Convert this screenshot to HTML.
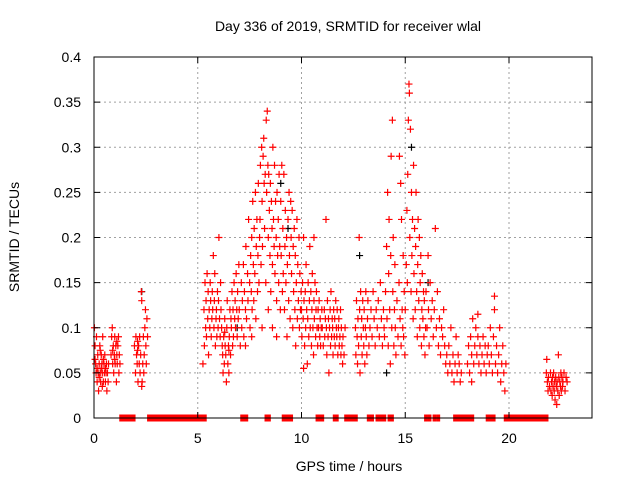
<!DOCTYPE html>
<html><head><meta charset="utf-8"><style>
body{margin:0;background:#fff}
svg{display:block;font-family:"Liberation Sans",sans-serif}
</style></head><body>
<svg id="chart" width="640" height="480" viewBox="0 0 640 480">
<rect width="640" height="480" fill="#fff"/>
<g id="grid"></g>
<g id="bars"></g>
<g id="pts"></g>
<rect x="94" y="57" width="498" height="361" fill="none" stroke="#000"/>
<g id="ticks"></g>
<text x="348" y="31" text-anchor="middle" font-size="14">Day 336 of 2019, SRMTID for receiver wlal</text>
<text x="349" y="471" text-anchor="middle" font-size="14">GPS time / hours</text>
<text transform="translate(19,237) rotate(-90)" text-anchor="middle" font-size="14">SRMTID / TECUs</text>
</svg>
<script>
const xTicks=[0,5,10,15,20];
const yTicks=[0,0.05,0.1,0.15,0.2,0.25,0.3,0.35,0.4];
const yTickLabels=["0","0.05","0.1","0.15","0.2","0.25","0.3","0.35","0.4"];
const zeroIntervals=[[1.29,1.93],[2.63,5.36],[7.12,7.36],[8.29,8.45],[9.12,9.35],[9.48,9.52],[10.75,11.02],[11.58,11.62],[11.68,11.72],[12.13,12.64],[13.22,13.42],[13.64,14.01],[14.22,14.38],[15.98,16.02],[16.15,16.19],[16.39,16.43],[16.57,16.61],[17.38,17.57],[17.65,18.25],[18.95,19.28],[19.82,21.83]];
const redObs=[
[0.02,.1],[0.05,.08],[0.08,.06],[0.1,.05],[0.12,.09],[0.15,.04],[0.18,.07],[0.2,.05],[0.22,.03],[0.25,.06],[0.28,.08],[0.3,.05],[0.32,.04],[0.35,.07],[0.38,.06],[0.4,.05],[0.42,.09],[0.45,.04],[0.48,.06],[0.5,.05],[0.52,.07],[0.55,.04],[0.58,.05],[0.6,.06],[0.62,.03],[0.65,.05],[0.68,.04],[0.7,.06],[0.05,.065],[0.15,.055],[0.25,.045],[0.35,.055],[0.45,.065],[0.55,.055],[0.3,.075],[0.4,.035],
[0.82,.07],[0.85,.09],[0.88,.1],[0.9,.06],[0.93,.08],[0.95,.05],[0.98,.07],[1.0,.09],[1.02,.06],[1.05,.08],[1.08,.04],[1.1,.07],[1.12,.06],[1.15,.08],[1.18,.09],[1.2,.05],[1.22,.07],[1.25,.06],[0.9,.075],[1.0,.065],[1.1,.085],
[1.95,.08],[2.0,.05],[2.02,.09],[2.05,.07],[2.08,.06],[2.1,.085],[2.12,.04],[2.15,.08],[2.18,.06],[2.2,.09],[2.22,.05],[2.25,.07],[2.28,.14],[2.3,.13],[2.32,.04],[2.35,.06],[2.38,.09],[2.4,.05],[2.42,.07],[2.45,.1],[2.48,.12],[2.5,.08],[2.52,.06],[2.55,.11],[2.58,.09],[2.3,.035],[2.1,.075],
[5.25,.06],[5.3,.12],[5.32,.08],[5.35,.15],[5.38,.1],[5.4,.13],[5.42,.09],[5.45,.16],[5.48,.11],[5.5,.14],[5.52,.07],[5.55,.12],[5.58,.1],[5.6,.15],[5.62,.13],[5.65,.09],[5.68,.11],[5.7,.14],[5.72,.12],[5.75,.18],[5.78,.1],[5.8,.13],[5.82,.16],[5.85,.08],[5.88,.11],[5.9,.12],[5.92,.09],[5.95,.14],[5.98,.1],[6.0,.13],[6.02,.2],[6.05,.11],[6.08,.09],[6.1,.15],[6.12,.12],[6.15,.1],[6.18,.08],
[6.2,.07],[6.22,.05],[6.25,.09],[6.28,.06],[6.3,.11],[6.32,.08],[6.35,.07],[6.38,.04],[6.4,.1],[6.42,.13],[6.45,.06],[6.48,.08],[6.5,.05],[6.52,.09],[6.55,.12],[6.58,.07],[6.6,.11],[6.62,.1],[6.65,.14],[6.68,.08],[6.7,.12],[6.72,.09],[6.75,.15],[6.78,.11],[6.8,.13],[6.82,.1],[6.85,.16],[6.88,.12],[6.9,.09],[6.92,.14],[6.95,.11],[6.98,.17],[6.3,.095],[6.5,.075],
[7.0,.12],[7.05,.08],[7.1,.15],[7.12,.1],[7.15,.13],[7.2,.17],[7.22,.09],[7.25,.14],[7.3,.12],[7.32,.19],[7.35,.11],[7.4,.16],[7.42,.13],[7.45,.22],[7.5,.15],[7.52,.1],[7.55,.18],[7.58,.14],[7.6,.2],[7.62,.12],[7.65,.24],[7.68,.17],[7.7,.13],[7.72,.21],[7.75,.16],[7.78,.25],[7.8,.11],[7.82,.19],[7.85,.22],[7.88,.14],[7.9,.18],[7.92,.26],[7.95,.15],[7.98,.2],[7.3,.08],[7.6,.09],
[8.0,.22],[8.02,.28],[8.05,.17],[8.08,.3],[8.1,.24],[8.12,.19],[8.15,.29],[8.18,.31],[8.2,.26],[8.22,.21],[8.25,.27],[8.28,.15],[8.3,.33],[8.32,.25],[8.35,.34],[8.38,.28],[8.4,.2],[8.42,.27],[8.45,.23],[8.48,.18],[8.5,.26],[8.52,.14],[8.55,.24],[8.58,.21],[8.6,.17],[8.62,.3],[8.65,.22],[8.68,.19],[8.7,.28],[8.72,.16],[8.75,.24],[8.78,.2],[8.8,.13],[8.82,.25],[8.85,.18],[8.88,.22],[8.9,.15],[8.92,.27],[8.95,.19],[8.98,.12],[8.1,.1],[8.4,.12],[8.6,.1],[8.8,.09],
[9.0,.24],[9.02,.18],[9.05,.28],[9.08,.14],[9.1,.21],[9.12,.16],[9.15,.27],[9.18,.12],[9.2,.19],[9.22,.23],[9.25,.15],[9.28,.2],[9.3,.09],[9.32,.17],[9.35,.22],[9.38,.13],[9.4,.25],[9.42,.18],[9.45,.11],[9.48,.24],[9.5,.2],[9.52,.16],[9.55,.23],[9.58,.1],[9.6,.19],[9.62,.14],[9.65,.21],[9.68,.12],[9.7,.18],[9.72,.08],[9.75,.15],[9.78,.22],[9.8,.11],[9.82,.17],[9.85,.13],[9.88,.2],[9.9,.1],[9.92,.16],[9.95,.12],[9.98,.14],
[10.0,.12],[10.02,.09],[10.05,.15],[10.08,.11],[10.1,.2],[10.12,.13],[10.15,.08],[10.18,.14],[10.2,.1],[10.22,.17],[10.25,.12],[10.28,.06],[10.3,.11],[10.32,.15],[10.35,.09],[10.38,.13],[10.4,.19],[10.42,.1],[10.45,.14],[10.48,.08],[10.5,.12],[10.52,.16],[10.55,.1],[10.58,.07],[10.6,.13],[10.62,.11],[10.65,.15],[10.68,.09],[10.7,.12],[10.72,.14],[10.75,.1],[10.78,.08],[10.8,.12],[10.82,.1],[10.85,.13],[10.88,.09],[10.9,.11],[10.92,.08],[10.95,.1],[10.98,.12],[10.1,.055],[10.6,.2],
[11.0,.1],[11.05,.08],[11.1,.12],[11.12,.09],[11.15,.11],[11.18,.22],[11.2,.1],[11.22,.07],[11.25,.13],[11.28,.09],[11.3,.11],[11.32,.05],[11.35,.1],[11.38,.12],[11.4,.08],[11.42,.14],[11.45,.09],[11.48,.11],[11.5,.1],[11.52,.07],[11.55,.12],[11.58,.09],[11.6,.11],[11.62,.08],[11.65,.13],[11.68,.1],[11.7,.09],[11.72,.12],[11.75,.07],[11.78,.1],[11.8,.11],[11.82,.08],[11.85,.09],[11.88,.12],[11.9,.07],[11.92,.1],[11.95,.08],[11.98,.06],
[12.6,.1],[12.62,.07],[12.65,.13],[12.68,.09],[12.7,.06],[12.72,.11],[12.75,.08],[12.78,.2],[12.8,.12],[12.82,.05],[12.85,.14],[12.88,.09],[12.9,.11],[12.92,.07],[12.95,.13],[12.98,.1],[12.0,.09],[12.05,.07],[12.1,.1],
[13.0,.08],[13.02,.12],[13.05,.06],[13.08,.1],[13.1,.14],[13.12,.09],[13.15,.07],[13.18,.11],[13.2,.13],[13.25,.08],[13.3,.1],[13.35,.12],[13.4,.09],[13.45,.14],[13.5,.11],[13.55,.08],[13.6,.12],[13.65,.1],[13.7,.13],[13.75,.09],[13.8,.15],[13.85,.11],[13.9,.08],[13.95,.12],[13.98,.1],
[14.0,.09],[14.05,.14],[14.1,.19],[14.12,.11],[14.15,.25],[14.18,.08],[14.2,.16],[14.22,.22],[14.25,.12],[14.28,.06],[14.3,.18],[14.32,.29],[14.35,.1],[14.38,.33],[14.4,.14],[14.42,.2],[14.45,.08],[14.48,.12],[14.5,.17],[14.52,.1],[14.55,.07],[14.6,.13],[14.65,.09],[14.7,.15],[14.72,.29],[14.75,.11],[14.78,.26],[14.8,.08],[14.82,.22],[14.85,.12],[14.88,.1],[14.9,.18],[14.92,.09],[14.95,.14],[14.98,.07],
[15.0,.12],[15.05,.17],[15.08,.23],[15.1,.15],[15.12,.27],[15.15,.33],[15.18,.37],[15.2,.36],[15.22,.2],[15.25,.32],[15.28,.14],[15.3,.25],[15.32,.18],[15.35,.22],[15.38,.11],[15.4,.28],[15.42,.16],[15.45,.21],[15.48,.12],[15.5,.19],[15.52,.25],[15.55,.14],[15.58,.09],[15.6,.17],[15.62,.22],[15.65,.13],[15.68,.2],[15.7,.1],[15.72,.15],[15.75,.18],[15.78,.08],[15.8,.12],[15.82,.16],[15.85,.11],[15.88,.14],[15.9,.09],[15.92,.13],[15.95,.07],[15.98,.1],
[16.0,.14],[16.05,.1],[16.1,.18],[16.12,.12],[16.15,.08],[16.2,.15],[16.25,.11],[16.3,.13],[16.35,.09],[16.4,.12],[16.45,.21],[16.5,.1],[16.55,.14],[16.6,.08],[16.65,.11],[16.7,.07],[16.75,.1],[16.8,.09],[16.85,.12],[16.9,.08],[16.95,.06],
[17.0,.07],[17.05,.05],[17.1,.08],[17.15,.06],[17.2,.1],[17.25,.05],[17.3,.07],[17.35,.04],[17.4,.06],[17.45,.09],[17.5,.05],[17.55,.07],[17.6,.06],[17.65,.04],[17.7,.05],
[18.0,.06],[18.05,.08],[18.1,.05],[18.15,.09],[18.2,.07],[18.25,.11],[18.3,.06],[18.35,.08],[18.4,.1],[18.45,.07],[18.5,.09],[18.55,.06],[18.6,.08],[18.65,.05],[18.7,.07],[18.75,.09],[18.8,.06],[18.85,.08],[18.9,.05],[18.95,.07],[18.2,.04],[18.5,.115],
[19.0,.08],[19.05,.06],[19.1,.1],[19.15,.07],[19.2,.05],[19.25,.09],[19.3,.12],[19.35,.06],[19.4,.08],[19.45,.05],[19.5,.07],[19.55,.1],[19.6,.04],[19.65,.06],[19.7,.08],[19.75,.05],[19.8,.03],[19.85,.06],[19.3,.135],
[21.8,.05],[21.82,.065],[21.85,.04],[21.88,.03],[21.9,.045],[21.95,.035],[22.0,.05],[22.02,.03],[22.05,.04],[22.08,.025],[22.1,.045],[22.12,.035],[22.15,.05],[22.18,.03],[22.2,.04],[22.22,.02],[22.25,.045],[22.28,.035],[22.3,.015],[22.32,.04],[22.35,.03],[22.38,.07],[22.4,.045],[22.42,.025],[22.45,.04],[22.48,.035],[22.5,.05],[22.52,.03],[22.55,.045],[22.58,.035],[22.6,.04],[22.65,.05],[22.7,.03],[22.75,.045],[22.8,.04]
];
const blackObs=[[2.3,.14],[9.35,.21],[15.3,.3],[16.1,.15],[14.1,.05],[9.0,.26],[12.8,.18],[6.9,.1]];

const X0=94,X1=592,Y0=418,Y1=57,XMAX=24,YMAX=0.4;
const xs=h=>X0+(X1-X0)*h/XMAX;
const ys=v=>Y0-(Y0-Y1)*v/YMAX;
const NS="http://www.w3.org/2000/svg";
function mk(tag,parent,attrs){const e=document.createElementNS(NS,tag);for(const k in attrs)e.setAttribute(k,attrs[k]);parent.appendChild(e);return e;}
const grid=document.getElementById('grid'),ticks=document.getElementById('ticks');
xTicks.forEach(t=>{
  const x=xs(t);
  if(t>0){const g=mk('line',grid,{x1:x,x2:x,y1:Y1,y2:Y0,stroke:'#a0a0a0','stroke-dasharray':'2,3'});
  
  }
  const a=mk('line',ticks,{x1:x,x2:x,y1:Y0,y2:Y0-6,stroke:'#000'});
  
  
  const b=mk('line',ticks,{x1:x,x2:x,y1:Y1,y2:Y1+6,stroke:'#000'});
  
  
  const l=mk('text',ticks,{x:x,y:443,'text-anchor':'middle','font-size':14});
  l.textContent=String(t);
  
  
});
yTicks.forEach((t,i)=>{
  const y=ys(t);
  if(t>0&&t<YMAX){const g=mk('line',grid,{x1:X0,x2:X1,y1:y,y2:y,stroke:'#a0a0a0','stroke-dasharray':'2,3'});
  
  }
  const a=mk('line',ticks,{x1:X0,x2:X0+6,y1:y,y2:y,stroke:'#000'});
  
  
  const b=mk('line',ticks,{x1:X1,x2:X1-6,y1:y,y2:y,stroke:'#000'});
  
  
  const l=mk('text',ticks,{x:81,y:y+5,'text-anchor':'end','font-size':14});
  l.textContent=yTickLabels[i];
  
  
});
const bars=document.getElementById('bars');
zeroIntervals.forEach(iv=>{
  const r=mk('rect',bars,{x:xs(iv[0])-1.5,y:Y0-3.5,width:Math.max(xs(iv[1])-xs(iv[0])+3,1.5),height:7,fill:'#ff0000'});
  
  
});
const pts=document.getElementById('pts');
function plus(h,v,col,name){
  const x=xs(h),y=ys(v);
  const p=mk('path',pts,{d:`M${x-3.5} ${y}H${x+3.5}M${x} ${y-3.5}V${y+3.5}`,stroke:col,'stroke-width':1.2,fill:'none'});
  
  
}
blackObs.forEach(o=>plus(o[0],o[1],'#000','point-black'));
redObs.forEach(o=>plus(o[0],o[1],'#ff0000','point-red'));
</script>
</body></html>
